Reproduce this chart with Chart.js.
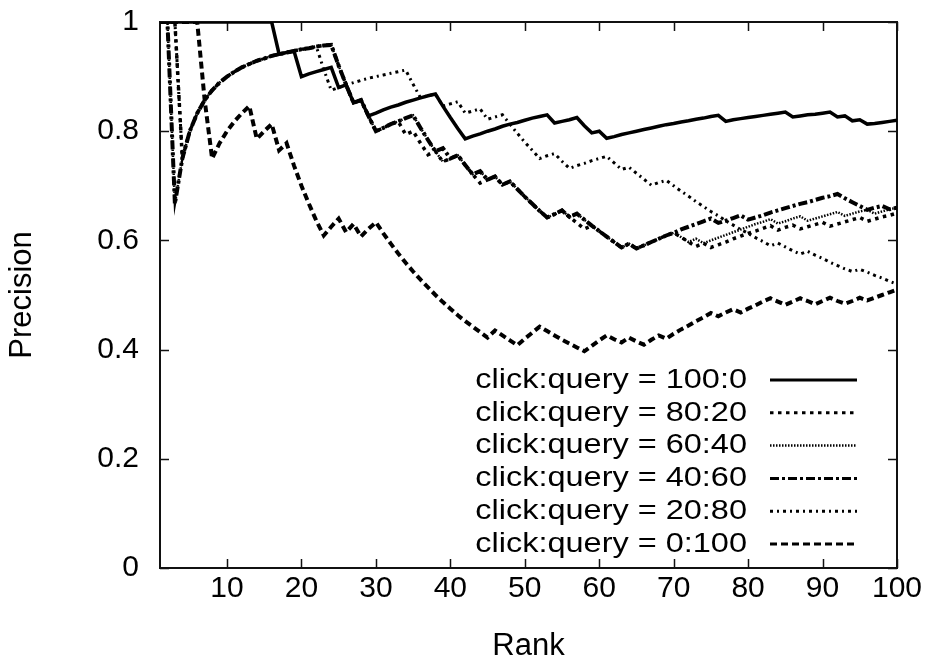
<!DOCTYPE html>
<html>
<head>
<meta charset="utf-8">
<title>Precision by rank</title>
<script src="https://cdn.jsdelivr.net/npm/chart.js@4.4.1/dist/chart.umd.min.js"></script>
<style>
  html, body { margin: 0; padding: 0; background: #fff; }
  #wrap { width: 932px; height: 668px; }
</style>
</head>
<body>
<div id="wrap"><canvas id="precChart"></canvas></div>
<script>
// precision at each rank, one list per click:query weighting
const ranks = Array.from({ length: 100 }, (_, i) => i + 1);
const rankTicks = [10, 20, 30, 40, 50, 60, 70, 80, 90, 100];
const precTicks = [0, 0.2, 0.4, 0.6, 0.8, 1];

const seriesNames = [
    'click:query = 100:0',
    'click:query = 80:20',
    'click:query = 60:40',
    'click:query = 40:60',
    'click:query = 20:80',
    'click:query = 0:100'
];

const prec100_0 = [
    1, 1, 1, 1, 1, 1, 1, 1, 1, 1, 1, 1, 1, 1, 1, 1,
    .941, .944, .947, .900, .905, .909, .913, .917, .880, .885,
    .852, .857, .828, .833, .839, .844, .848, .853, .857, .861,
    .865, .868, .846, .825, .805, .786, .791, .795, .800, .804,
    .809, .813, .816, .820, .824, .827, .830, .815, .818, .821,
    .825, .810, .797, .800, .787, .790, .794, .797, .800, .803,
    .806, .809, .812, .814, .817, .819, .822, .824, .827, .829,
    .818, .821, .823, .825, .827, .829, .831, .833, .835, .826,
    .828, .830, .831, .833, .835, .826, .828, .819, .821, .813,
    .814, .816, .818, .820
];
const prec80_20 = [
    1, 1, 1, .750, .800, .833, .857, .875, .889, .900,
    .909, .917, .923, .929, .933, .938, .941, .944, .947, .950,
    .952, .955, .957, .958, .920, .885, .852, .857, .828, .800,
    .806, .813, .818, .794, .800, .778, .757, .763, .744, .750,
    .756, .738, .721, .705, .711, .717, .702, .708, .694, .680,
    .667, .654, .642, .648, .655, .643, .632, .621, .627, .617,
    .607, .597, .587, .594, .585, .591, .597, .603, .609, .614,
    .606, .597, .589, .595, .587, .592, .597, .603, .608, .613,
    .617, .622, .627, .619, .624, .628, .621, .625, .629, .633,
    .626, .630, .634, .638, .642, .635, .639, .643, .646, .650
];
const prec60_40 = [
    1, 1, .667, .750, .800, .833, .857, .875, .889, .900,
    .909, .917, .923, .929, .933, .938, .941, .944, .947, .950,
    .952, .955, .957, .958, .920, .885, .852, .857, .828, .800,
    .806, .813, .818, .824, .829, .806, .784, .763, .744, .750,
    .756, .738, .721, .727, .711, .717, .702, .708, .694, .680,
    .667, .654, .642, .648, .655, .643, .649, .638, .627, .617,
    .607, .597, .587, .594, .585, .591, .597, .603, .609, .614,
    .606, .597, .603, .595, .600, .605, .610, .615, .620, .625,
    .630, .634, .639, .631, .635, .640, .644, .636, .640, .644,
    .648, .652, .645, .649, .653, .656, .649, .653, .657, .660
];
const prec40_60 = [
    1, 1, .667, .750, .800, .833, .857, .875, .889, .900,
    .909, .917, .923, .929, .933, .938, .941, .944, .947, .950,
    .952, .955, .957, .958, .920, .885, .852, .857, .828, .800,
    .806, .813, .818, .824, .829, .806, .784, .763, .769, .750,
    .756, .738, .721, .727, .711, .717, .702, .708, .694, .680,
    .667, .654, .642, .648, .655, .643, .649, .638, .627, .617,
    .607, .597, .587, .594, .585, .591, .597, .603, .609, .614,
    .620, .625, .630, .635, .640, .632, .636, .641, .646, .638,
    .642, .646, .651, .655, .659, .663, .667, .670, .674, .678,
    .681, .685, .677, .670, .663, .656, .660, .663, .657, .660
];
const prec20_80 = [
    1, 1, 1, .750, .800, .833, .857, .875, .889, .900,
    .909, .917, .923, .929, .933, .938, .941, .944, .947, .950,
    .952, .955, .913, .875, .880, .885, .889, .893, .897, .900,
    .903, .906, .909, .912, .886, .861, .865, .868, .846, .850,
    .854, .833, .837, .841, .822, .826, .830, .813, .796, .780,
    .765, .750, .755, .759, .745, .732, .737, .741, .746, .750,
    .754, .742, .730, .734, .723, .712, .701, .706, .710, .700,
    .690, .681, .671, .662, .653, .645, .636, .628, .620, .613,
    .605, .598, .590, .595, .588, .581, .575, .580, .573, .567,
    .560, .554, .548, .543, .547, .542, .536, .531, .525, .520
];
const prec0_100 = [
    1, 1, 1, 1, 1, 1, .857, .750, .778, .800,
    .818, .833, .846, .786, .800, .813, .765, .778, .737, .700,
    .667, .636, .609, .625, .640, .615, .630, .607, .621, .633,
    .613, .594, .576, .559, .543, .528, .514, .500, .487, .475,
    .463, .452, .442, .432, .422, .435, .426, .417, .408, .420,
    .431, .442, .434, .426, .418, .411, .404, .397, .407, .417,
    .426, .419, .413, .422, .415, .409, .418, .426, .420, .429,
    .437, .444, .452, .459, .467, .461, .468, .474, .468, .475,
    .481, .488, .494, .488, .482, .488, .494, .489, .483, .489,
    .495, .489, .484, .489, .495, .490, .495, .500, .505, .510
];

const allSeries = [prec100_0, prec80_20, prec60_40, prec40_60, prec20_80, prec0_100];

// line look per series: width and dash
const lineWidths = [3.5, 3.5, 2.5, 4, 3, 4];
const lineDashes = [[], [3.5, 4.5], [1.5, 1.5], [9, 3, 3, 3], [3, 4, 2, 4], [7, 4]];

const fontFamily = '"Liberation Sans", Arial, Helvetica, sans-serif';

function toPoints(values) {
    return values.map((v, i) => ({ x: ranks[i], y: v }));
}

// box round the plot with short inward ticks, gnuplot style
const frameBox = {
    id: 'frameBox',
    beforeDatasetsDraw(chart) {
        const ctx = chart.ctx;
        const a = chart.chartArea;
        const xs = chart.scales.x, ys = chart.scales.y;
        const tick = 9;
        ctx.save();
        ctx.strokeStyle = '#111';
        ctx.lineWidth = 1.5;
        ctx.beginPath();
        rankTicks.forEach(v => {
            const px = Math.round(xs.getPixelForValue(v)) + 0.5;
            ctx.moveTo(px, a.bottom); ctx.lineTo(px, a.bottom - tick);
            ctx.moveTo(px, a.top); ctx.lineTo(px, a.top + tick);
        });
        precTicks.forEach(v => {
            const py = Math.round(ys.getPixelForValue(v)) + 0.5;
            ctx.moveTo(a.left, py); ctx.lineTo(a.left + tick, py);
            ctx.moveTo(a.right, py); ctx.lineTo(a.right - tick, py);
        });
        ctx.stroke();
        ctx.lineWidth = 2;
        ctx.strokeRect(a.left, a.top, a.right - a.left, a.bottom - a.top);
        ctx.restore();
    }
};

// key in the lower right, text first and the line sample after it
const lineKey = {
    id: 'lineKey',
    afterDatasetsDraw(chart) {
        const ctx = chart.ctx;
        const a = chart.chartArea;
        const textRight = a.right - 150;
        const sampleFrom = a.right - 127;
        const sampleTo = a.right - 40;
        const firstRow = a.bottom - 188;
        const rowStep = 32.8;
        ctx.save();
        ctx.font = '28px ' + fontFamily;
        ctx.textAlign = 'right';
        ctx.textBaseline = 'middle';
        chart.data.datasets.forEach((ds, i) => {
            const y = firstRow + i * rowStep;
            ctx.fillStyle = '#000';
            ctx.save();
            ctx.translate(textRight, y);
            ctx.scale(1.16, 1);
            ctx.fillText(ds.label, 0, 0);
            ctx.restore();
            ctx.beginPath();
            ctx.setLineDash(ds.borderDash);
            ctx.lineWidth = Math.min(ds.borderWidth, 3);
            ctx.strokeStyle = '#000';
            ctx.moveTo(sampleFrom, y);
            ctx.lineTo(sampleTo, y);
            ctx.stroke();
        });
        ctx.restore();
    }
};

const ctx1 = document.getElementById('precChart').getContext('2d');
const precChart = new Chart(ctx1, {
    type: 'line',
    data: {
        datasets: allSeries.map((vals, i) => ({
            label: seriesNames[i],
            data: toPoints(vals),
            borderColor: '#000',
            borderWidth: lineWidths[i],
            borderDash: lineDashes[i],
            pointRadius: 0,
            fill: false,
            tension: 0
        }))
    },
    options: {
        responsive: true,
        maintainAspectRatio: false,
        animation: false,
        layout: { padding: { top: 22, right: 35, left: 0, bottom: 0 } },
        plugins: {
            legend: { display: false },
            tooltip: { enabled: false }
        },
        scales: {
            x: {
                type: 'linear',
                min: 1,
                max: 100,
                afterBuildTicks: s => { s.ticks = rankTicks.map(v => ({ value: v })); },
                afterFit: s => {
                    s.height = 100;
                    s.paddingLeft = 0;
                    s.paddingRight = 0;
                },
                grid: { display: false, drawTicks: false },
                border: { display: false },
                ticks: {
                    padding: 3,
                    color: '#000',
                    maxRotation: 0,
                    autoSkip: false,
                    font: { family: fontFamily, size: 30 }
                },
                title: {
                    display: true,
                    text: 'Rank',
                    color: '#000',
                    padding: { top: 0, bottom: 3 },
                    font: { family: fontFamily, size: 31 }
                }
            },
            y: {
                min: 0,
                max: 1,
                afterBuildTicks: s => { s.ticks = precTicks.map(v => ({ value: v })); },
                afterFit: s => {
                    s.width = 160;
                    s.paddingTop = 0;
                    s.paddingBottom = 0;
                },
                grid: { display: false, drawTicks: false },
                border: { display: false },
                ticks: {
                    padding: 21,
                    color: '#000',
                    font: { family: fontFamily, size: 30 },
                    callback: v => (v === 0 || v === 1) ? String(v) : v.toFixed(1)
                },
                title: {
                    display: true,
                    text: 'Precision',
                    color: '#000',
                    padding: { top: 4, bottom: 0 },
                    font: { family: fontFamily, size: 31 }
                }
            }
        }
    },
    plugins: [frameBox, lineKey]
});
</script>
</body>
</html>
